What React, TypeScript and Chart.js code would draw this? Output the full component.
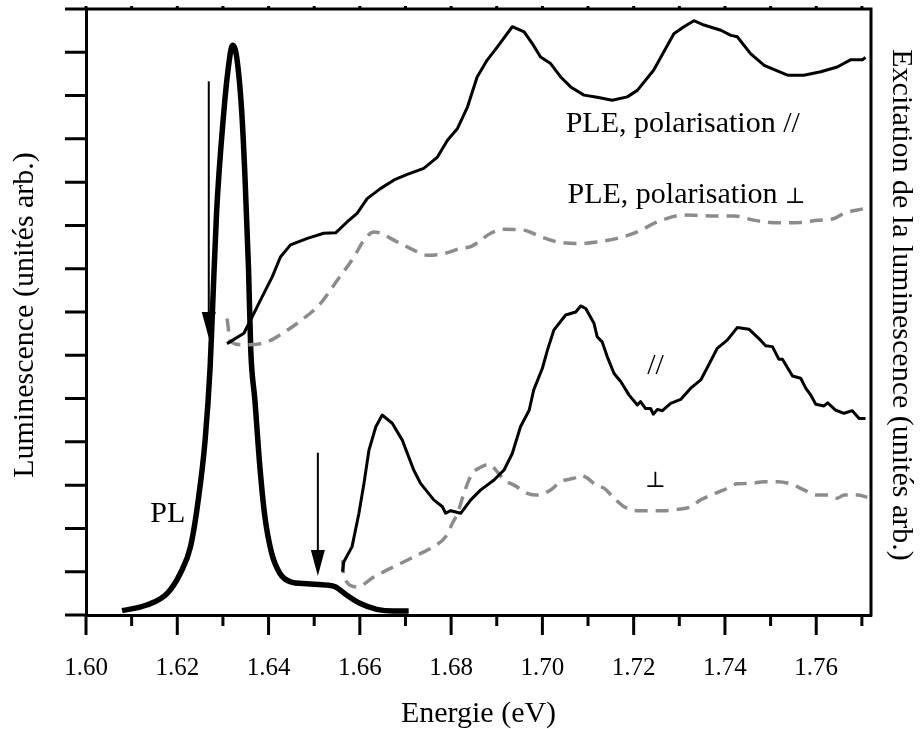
import React, { useEffect, useRef } from "react";
import { Chart, registerables } from "chart.js";

Chart.register(...registerables);

const FONT = "'Liberation Serif', 'Times New Roman', 'DejaVu Serif', serif";

// ---- Data (energy in eV, intensity in arbitrary units, 0..14 = tick units) ----
const plE = [1.6079, 1.6133, 1.6178, 1.6207, 1.6229, 1.6246, 1.6261, 1.6272, 1.6278, 1.6286, 1.6301, 1.6312, 1.6321, 1.633, 1.6341, 1.6348, 1.6356, 1.6361, 1.637, 1.6381, 1.6392, 1.6407, 1.6425, 1.6447, 1.6484, 1.6528, 1.6546, 1.6571, 1.66, 1.6637, 1.6674, 1.6707];
const plI = [0.1, 0.23, 0.5, 0.97, 1.58, 2.66, 4.04, 5.73, 7.27, 9.28, 11.5, 12.66, 13.16, 12.9, 11.66, 10.2, 8.04, 6.12, 4.97, 3.42, 2.27, 1.42, 0.96, 0.77, 0.72, 0.69, 0.65, 0.46, 0.27, 0.13, 0.09, 0.09];

const pleParUpE = [1.6309, 1.6346, 1.6368, 1.6382, 1.6408, 1.6426, 1.6448, 1.6485, 1.6521, 1.6547, 1.6572, 1.6594, 1.6616, 1.6645, 1.6675, 1.6704, 1.674, 1.677, 1.6792, 1.6814, 1.6836, 1.6857, 1.6879, 1.6901, 1.6934, 1.696, 1.6978, 1.6996, 1.7018, 1.704, 1.7062, 1.7091, 1.712, 1.7153, 1.7186, 1.7208, 1.7244, 1.7288, 1.731, 1.7332, 1.7354, 1.7391, 1.7413, 1.7427, 1.7456, 1.7486, 1.7508, 1.7537, 1.7573, 1.761, 1.7646, 1.7676, 1.7701, 1.7708];
const pleParUpI = [6.27, 6.51, 6.97, 7.27, 7.81, 8.27, 8.55, 8.7, 8.82, 8.83, 9.08, 9.28, 9.62, 9.85, 10.05, 10.18, 10.32, 10.58, 10.97, 11.24, 11.74, 12.43, 12.82, 13.12, 13.59, 13.47, 13.2, 12.89, 12.74, 12.43, 12.2, 12.01, 11.96, 11.89, 11.97, 12.12, 12.59, 13.43, 13.59, 13.73, 13.63, 13.51, 13.39, 13.36, 12.97, 12.7, 12.6, 12.47, 12.47, 12.55, 12.66, 12.83, 12.83, 12.88];

const plePerpUpE = [1.6309, 1.6317, 1.6346, 1.6397, 1.6441, 1.6463, 1.6514, 1.6551, 1.6587, 1.6609, 1.6631, 1.6682, 1.6718, 1.6748, 1.6784, 1.6821, 1.6843, 1.6887, 1.6916, 1.696, 1.6996, 1.7033, 1.7077, 1.712, 1.7164, 1.7208, 1.7252, 1.731, 1.7369, 1.742, 1.7464, 1.7515, 1.7566, 1.7603, 1.7639, 1.7661, 1.7705];
const plePerpUpI = [6.85, 6.31, 6.24, 6.31, 6.58, 6.74, 7.2, 7.74, 8.27, 8.66, 8.85, 8.62, 8.43, 8.31, 8.35, 8.47, 8.51, 8.82, 8.91, 8.89, 8.74, 8.62, 8.58, 8.62, 8.7, 8.85, 9.08, 9.24, 9.22, 9.22, 9.12, 9.06, 9.07, 9.12, 9.16, 9.28, 9.39];

const pleParLowE = [1.6562, 1.6565, 1.6583, 1.6598, 1.6609, 1.662, 1.6635, 1.6649, 1.6671, 1.6693, 1.6718, 1.6733, 1.6762, 1.6781, 1.6788, 1.6799, 1.6821, 1.6843, 1.6865, 1.6894, 1.6916, 1.6934, 1.6952, 1.6971, 1.6981, 1.7, 1.7011, 1.7025, 1.7051, 1.7073, 1.7084, 1.7095, 1.7113, 1.712, 1.7131, 1.7142, 1.7157, 1.7172, 1.719, 1.7208, 1.7215, 1.7226, 1.7237, 1.7243, 1.7252, 1.7263, 1.7281, 1.7303, 1.7325, 1.7347, 1.7362, 1.7383, 1.7405, 1.7427, 1.7453, 1.7478, 1.7489, 1.7504, 1.7518, 1.7526, 1.7548, 1.7566, 1.7577, 1.7588, 1.7599, 1.7617, 1.7625, 1.7643, 1.7661, 1.7679, 1.7694, 1.7708];
const pleParLowI = [1.0, 1.23, 1.58, 2.35, 3.04, 3.81, 4.35, 4.62, 4.43, 4.04, 3.35, 3.04, 2.66, 2.5, 2.35, 2.41, 2.35, 2.66, 2.89, 3.12, 3.35, 3.73, 4.35, 4.73, 5.2, 5.7, 6.12, 6.58, 6.93, 7.0, 7.14, 7.08, 6.74, 6.43, 6.31, 5.97, 5.58, 5.39, 5.08, 4.85, 4.93, 4.77, 4.77, 4.64, 4.75, 4.72, 4.89, 4.98, 5.24, 5.43, 5.73, 6.16, 6.35, 6.64, 6.6, 6.35, 6.22, 6.2, 5.91, 5.91, 5.52, 5.47, 5.24, 5.08, 4.87, 4.83, 4.9, 4.73, 4.66, 4.72, 4.54, 4.54];

const plePerpLowE = [1.6562, 1.6565, 1.6594, 1.6631, 1.6689, 1.6733, 1.6762, 1.6788, 1.6803, 1.6814, 1.6828, 1.6846, 1.6861, 1.6883, 1.6901, 1.6916, 1.6938, 1.6967, 1.6989, 1.7018, 1.704, 1.7069, 1.7084, 1.7099, 1.7117, 1.7135, 1.7157, 1.7179, 1.7208, 1.7237, 1.7266, 1.7296, 1.7325, 1.7347, 1.7369, 1.7398, 1.7427, 1.7456, 1.7486, 1.7515, 1.7544, 1.7573, 1.7603, 1.7625, 1.7646, 1.7661, 1.769, 1.7712];
const plePerpLowI = [1.27, 0.88, 0.65, 0.88, 1.19, 1.42, 1.58, 1.81, 2.12, 2.35, 2.81, 3.27, 3.39, 3.48, 3.31, 3.12, 3.0, 2.81, 2.77, 2.89, 3.08, 3.16, 3.23, 3.16, 3.0, 2.93, 2.7, 2.5, 2.41, 2.41, 2.41, 2.44, 2.5, 2.66, 2.77, 2.89, 3.03, 3.04, 3.08, 3.08, 3.03, 2.89, 2.77, 2.77, 2.7, 2.77, 2.77, 2.72];

// axis ranges / labels
const xMin = 1.6;
const xMax = 1.772;
const xStep = 0.01;
const yMin = 0;
const yMax = 14;
const xTitle = "Energie (eV)";
const yTitle = "Luminescence (unités arb.)";
const y2Title = "Excitation de la luminescence (unités arb.)";

// annotation texts (anchored in data coordinates); the "suffix" part uses a narrower glyph
const labelTexts = ["PL", "PLE, polarisation //", "PLE, polarisation ", "//", ""];
const labelSuffix = ["", "", "\u22A5", "", "\u22A5"];
const labelE = [1.6141, 1.7051, 1.7055, 1.7248, 1.7248];
const labelI = [2.15, 11.15, 9.51, 5.75, 2.95];
// arrows: energy, top, tip
const arrowE = [1.6269, 1.6508];
const arrowTop = [12.33, 3.75];
const arrowTip = [6.4, 0.9];

const zip = (xs: number[], ys: number[]) => xs.map((x, i) => ({ x, y: ys[i] }));

const overlay = {
  id: "overlay",
  afterDraw(chart: any) {
    const { ctx, chartArea: a, scales } = chart;
    const x = scales.x;
    const y = scales.y;
    ctx.save();
    ctx.strokeStyle = "#000";
    ctx.fillStyle = "#000";
    ctx.lineCap = "butt";
    // frame (top + right)
    ctx.lineWidth = 3;
    ctx.beginPath();
    ctx.moveTo(a.left, a.top);
    ctx.lineTo(a.right, a.top);
    ctx.lineTo(a.right, a.bottom + 1.5);
    ctx.stroke();
    // x ticks
    ctx.beginPath();
    x.ticks.forEach((t: any) => {
      const px = x.getPixelForValue(t.value);
      const major = Math.round(t.value * 100) % 2 === 0;
      ctx.moveTo(px, a.bottom);
      ctx.lineTo(px, a.bottom + (major ? 20 : 11));
      ctx.moveTo(px, a.top);
      ctx.lineTo(px, a.top - 3);
    });
    // y ticks (left, outward)
    y.ticks.forEach((t: any) => {
      const py = y.getPixelForValue(t.value);
      ctx.moveTo(a.left - 21, py);
      ctx.lineTo(a.left, py);
    });
    ctx.stroke();

    // axis titles
    ctx.font = `30px ${FONT}`;
    ctx.textAlign = "center";
    ctx.textBaseline = "alphabetic";
    ctx.fillText(xTitle, (a.left + a.right) / 2, 722);
    ctx.save();
    ctx.translate(33, (a.top + a.bottom) / 2 + 3);
    ctx.rotate(-Math.PI / 2);
    ctx.fillText(yTitle, 0, 0);
    ctx.restore();
    ctx.save();
    ctx.translate(893, 305);
    ctx.rotate(Math.PI / 2);
    ctx.fillText(y2Title, 0, 0);
    ctx.restore();

    // annotation labels
    labelTexts.forEach((txt, i) => {
      let px = x.getPixelForValue(labelE[i]);
      const py = y.getPixelForValue(labelI[i]);
      ctx.font = `30px ${FONT}`;
      if (i === 3) {
        ctx.textAlign = "center";
        ctx.textBaseline = "middle";
        ctx.fillText(txt, px, py);
        return;
      }
      ctx.textBaseline = "alphabetic";
      ctx.textAlign = txt ? "left" : "center";
      if (txt) {
        ctx.fillText(txt, px, py);
        px += ctx.measureText(txt).width;
      }
      if (labelSuffix[i]) {
        ctx.font = `22px 'DejaVu Serif', serif`;
        ctx.textAlign = txt ? "left" : "center";
        ctx.fillText(labelSuffix[i], px, py);
      }
    });

    // arrows
    arrowE.forEach((e, i) => {
      const px = x.getPixelForValue(e);
      const top = y.getPixelForValue(arrowTop[i]);
      const tip = y.getPixelForValue(arrowTip[i]);
      ctx.lineWidth = 2;
      ctx.beginPath();
      ctx.moveTo(px, top);
      ctx.lineTo(px, tip - 20);
      ctx.stroke();
      ctx.beginPath();
      ctx.moveTo(px, tip);
      ctx.lineTo(px - 7, tip - 26);
      ctx.lineTo(px + 7, tip - 26);
      ctx.closePath();
      ctx.fill();
    });
    ctx.restore();
  },
};

export default function App() {
  const ref = useRef<HTMLCanvasElement | null>(null);
  useEffect(() => {
    if (!ref.current) return;
    const black = "#000000";
    const gray = "#8c8c8c";
    const chart = new Chart(ref.current, {
      type: "line",
      data: {
        datasets: [
          { label: "PLE // (haut)", data: zip(pleParUpE, pleParUpI), borderColor: black, borderWidth: 3 },
          { label: "PLE \u22A5 (haut)", data: zip(plePerpUpE, plePerpUpI), borderColor: gray, borderWidth: 3.5, borderDash: [13, 8], cubicInterpolationMode: "monotone" },
          { label: "PLE // (bas)", data: zip(pleParLowE, pleParLowI), borderColor: black, borderWidth: 3 },
          { label: "PLE \u22A5 (bas)", data: zip(plePerpLowE, plePerpLowI), borderColor: gray, borderWidth: 3.5, borderDash: [13, 8], cubicInterpolationMode: "monotone" },
          { label: "PL", data: zip(plE, plI), borderColor: black, borderWidth: 5.5, cubicInterpolationMode: "monotone" },
        ],
      },
      options: {
        responsive: false,
        animation: false,
        devicePixelRatio: 1,
        events: [],
        layout: { padding: { left: 0, right: 51, top: 9, bottom: 0 } },
        elements: {
          point: { radius: 0 },
          line: { tension: 0, fill: false, borderJoinStyle: "round", borderCapStyle: "butt" },
        },
        plugins: { legend: { display: false }, tooltip: { enabled: false }, title: { display: false } },
        scales: {
          x: {
            type: "linear",
            min: xMin,
            max: xMax,
            grid: { display: false },
            border: { display: true, color: "#000", width: 3 },
            afterFit: (s: any) => {
              s.height = 114;
            },
            ticks: {
              stepSize: xStep,
              includeBounds: false,
              autoSkip: false,
              maxRotation: 0,
              padding: 30,
              color: "#000",
              font: { family: FONT, size: 25 },
              callback: (v: any) => {
                const n = Math.round(Number(v) * 100);
                return n % 2 === 0 ? (n / 100).toFixed(2) : "";
              },
            },
          },
          y: {
            type: "linear",
            min: yMin,
            max: yMax,
            grid: { display: false },
            border: { display: true, color: "#000", width: 3 },
            afterFit: (s: any) => {
              s.width = 86;
            },
            ticks: { stepSize: 1, display: false },
          },
        },
      },
      plugins: [overlay],
    });
    return () => chart.destroy();
  }, []);
  return (
    <div style={{ position: "absolute", left: 0, top: 0, width: 922, height: 729, background: "#fff" }}>
      <canvas ref={ref} width={922} height={729} />
    </div>
  );
}
